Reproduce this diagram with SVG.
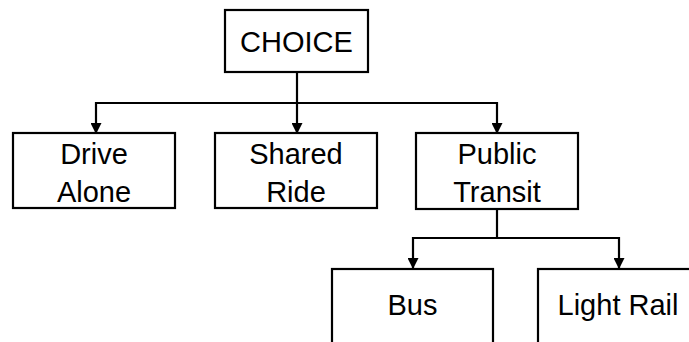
<svg xmlns="http://www.w3.org/2000/svg" width="689" height="342" viewBox="0 0 689 342">
<defs>
<marker id="arr" markerWidth="11" markerHeight="11" refX="10" refY="5.5" orient="auto" markerUnits="userSpaceOnUse">
<path d="M0,0 L11,5.5 L0,11 Z" fill="#000"/>
</marker>
<style>
.box{fill:#fff;stroke:#000;stroke-width:2.2}
.t{font-family:"Liberation Sans",Arial,sans-serif;font-size:29px;fill:#000;text-anchor:middle}
.c{fill:none;stroke:#000;stroke-width:2.2}
</style>
</defs>
<rect width="689" height="342" fill="#fff"/>
<g id="connectors">
<line class="c" x1="297" y1="72" x2="297" y2="103"/>
<line class="c" x1="95" y1="103" x2="498" y2="103"/>
<line class="c" x1="96" y1="102" x2="96" y2="133" marker-end="url(#arr)"/>
<line class="c" x1="297" y1="102" x2="297" y2="133" marker-end="url(#arr)"/>
<line class="c" x1="497" y1="102" x2="497" y2="133" marker-end="url(#arr)"/>
<line class="c" x1="497" y1="209" x2="497" y2="238"/>
<line class="c" x1="412" y1="238" x2="620" y2="238"/>
<line class="c" x1="413" y1="237" x2="413" y2="268" marker-end="url(#arr)"/>
<line class="c" x1="619" y1="237" x2="619" y2="268" marker-end="url(#arr)"/>
</g>
<g id="choice">
<rect class="box" x="225" y="10" width="143" height="62"/>
<text class="t" x="296.5" y="52">CHOICE</text>
</g>
<g id="drive-alone">
<rect class="box" x="13" y="133" width="162" height="75"/>
<text class="t" x="94" y="164">Drive</text>
<text class="t" x="94" y="202">Alone</text>
</g>
<g id="shared-ride">
<rect class="box" x="215" y="133" width="162" height="75"/>
<text class="t" x="296" y="164">Shared</text>
<text class="t" x="296" y="202">Ride</text>
</g>
<g id="public-transit">
<rect class="box" x="416" y="133" width="162" height="76"/>
<text class="t" x="497" y="164">Public</text>
<text class="t" x="497" y="202">Transit</text>
</g>
<g id="bus">
<rect class="box" x="332" y="269" width="161" height="90"/>
<text class="t" x="412.5" y="315">Bus</text>
</g>
<g id="light-rail">
<rect class="box" x="538" y="269" width="170" height="90"/>
<text class="t" x="618" y="315">Light Rail</text>
</g>
</svg>
